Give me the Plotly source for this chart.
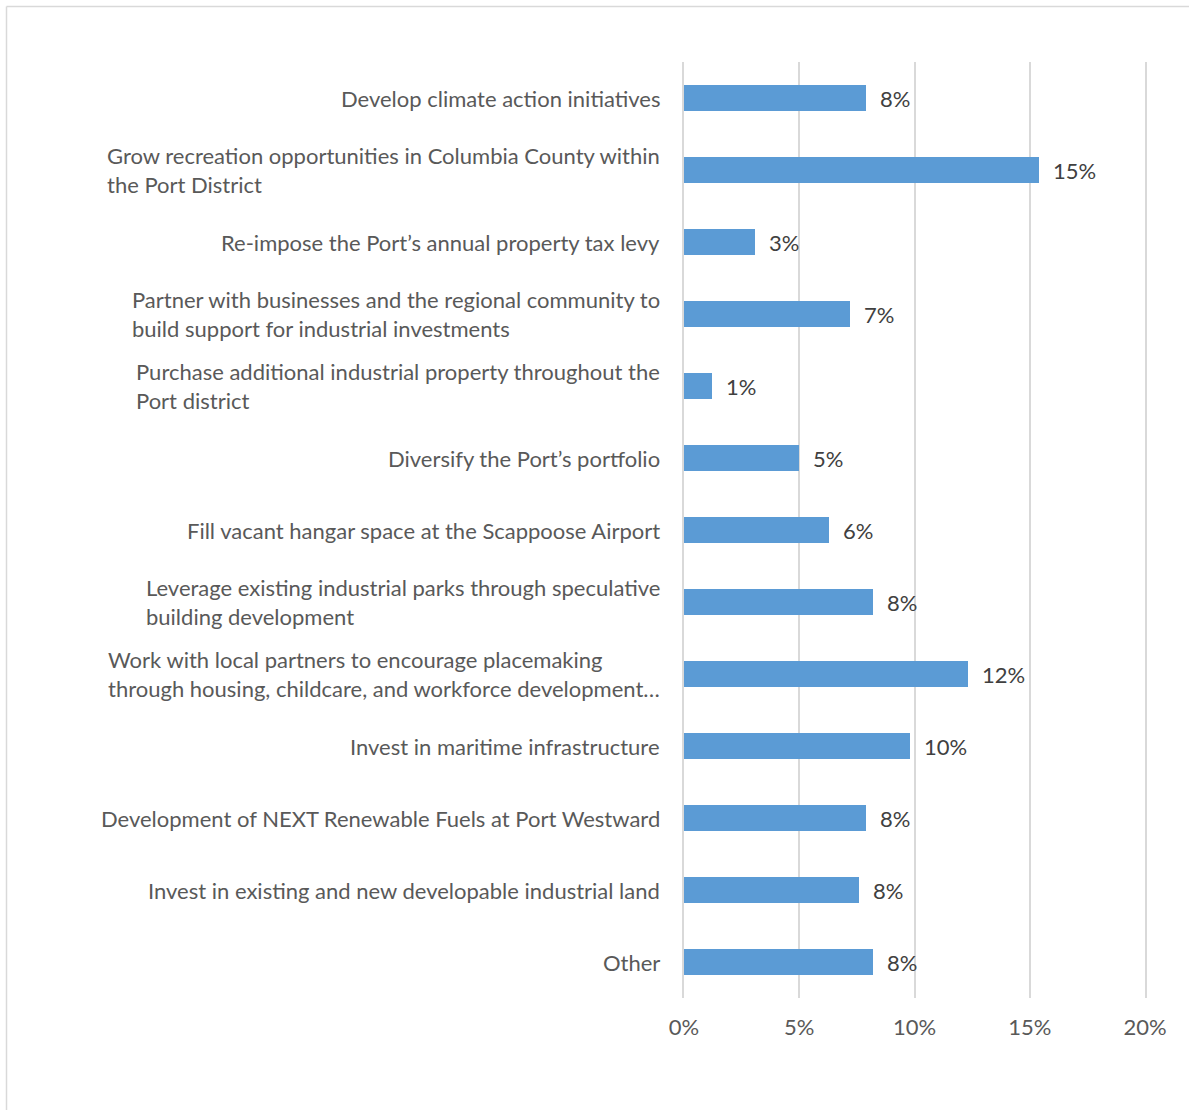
import plotly.graph_objects as go

# Survey priorities (share of responses), listed top to bottom
categories = [
    "Develop climate action initiatives",
    "Grow recreation opportunities in Columbia County within<br>the Port District",
    "Re-impose the Port\u2019s annual property tax levy",
    "Partner with businesses and the regional community to<br>build support for industrial investments",
    "Purchase additional industrial property throughout the<br>Port district",
    "Diversify the Port\u2019s portfolio",
    "Fill vacant hangar space at the Scappoose Airport",
    "Leverage existing industrial parks through speculative<br>building development",
    "Work with local partners to encourage placemaking<br>through housing, childcare, and workforce development\u2026",
    "Invest in maritime infrastructure",
    "Development of NEXT Renewable Fuels at Port Westward",
    "Invest in existing and new developable industrial land",
    "Other",
]
shares = [0.079, 0.154, 0.031, 0.072, 0.012, 0.050, 0.063, 0.082, 0.123, 0.098, 0.079, 0.076, 0.082]
x_ticks = [0, 0.05, 0.10, 0.15, 0.20]
x_tick_labels = ["0%", "5%", "10%", "15%", "20%"]

W, H = 1189, 1110
M_L, M_R, M_T, M_B = 684, 44, 62, 112
FONT = "Lato, 'Open Sans', sans-serif"
BAR = "#5B9BD5"
GRID = "#D9D9D9"

ids = list(range(len(categories)))

fig = go.Figure(
    go.Bar(
        x=shares,
        y=ids,
        orientation="h",
        marker=dict(color=BAR, line=dict(width=0)),
        width=0.35,
        hoverinfo="x",
    )
)

annotations = []
# Category labels: left-aligned text blocks sitting right of the axis gap
for i, label in zip(ids, categories):
    annotations.append(dict(
        x=0, xref="paper", y=i, yref="y",
        text=label, showarrow=False,
        xanchor="right", yanchor="middle", align="left",
        xshift=-22,
        font=dict(family=FONT, size=22, color="#595959"),
    ))
# Value labels just past each bar end
for i, v in zip(ids, shares):
    annotations.append(dict(
        x=v, xref="x", y=i, yref="y",
        text=f"{v:.0%}", showarrow=False,
        xanchor="left", yanchor="middle", xshift=12,
        font=dict(family=FONT, size=22, color="#404040"),
    ))

pw = W - M_L - M_R
ph = H - M_T - M_B
left_px, top_px = 6.5, 6.5
x_edge = (left_px - M_L) / pw
y_edge = 1 + (M_T - top_px) / ph
shapes = [
    dict(type="line", xref="paper", yref="paper", x0=x_edge, x1=1 + M_R / pw + 0.01,
         y0=y_edge, y1=y_edge, line=dict(color="#D9D9D9", width=1.5)),
    dict(type="line", xref="paper", yref="paper", x0=x_edge, x1=x_edge,
         y0=y_edge, y1=-M_B / ph - 0.01, line=dict(color="#D9D9D9", width=1.5)),
]

fig.update_layout(
    width=W, height=H,
    margin=dict(l=M_L, r=M_R, t=M_T, b=M_B, pad=0),
    paper_bgcolor="white", plot_bgcolor="white",
    showlegend=False,
    bargap=0,
    annotations=annotations,
    shapes=shapes,
    xaxis=dict(
        range=[0, 0.2], tickvals=x_ticks, ticktext=x_tick_labels,
        showgrid=True, gridcolor=GRID, gridwidth=1.5,
        zeroline=False, showline=False, ticks="",
        ticklabelstandoff=14,
        tickfont=dict(family=FONT, size=22, color="#595959"),
        fixedrange=True,
    ),
    yaxis=dict(
        range=[len(categories) - 0.5, -0.5],
        showticklabels=False, showgrid=False, zeroline=False, ticks="",
        # vertical rules at the 0% and 20% edges
        showline=True, mirror=True, linecolor=GRID, linewidth=1.5,
        fixedrange=True,
    ),
)

fig.write_html("out.html")
